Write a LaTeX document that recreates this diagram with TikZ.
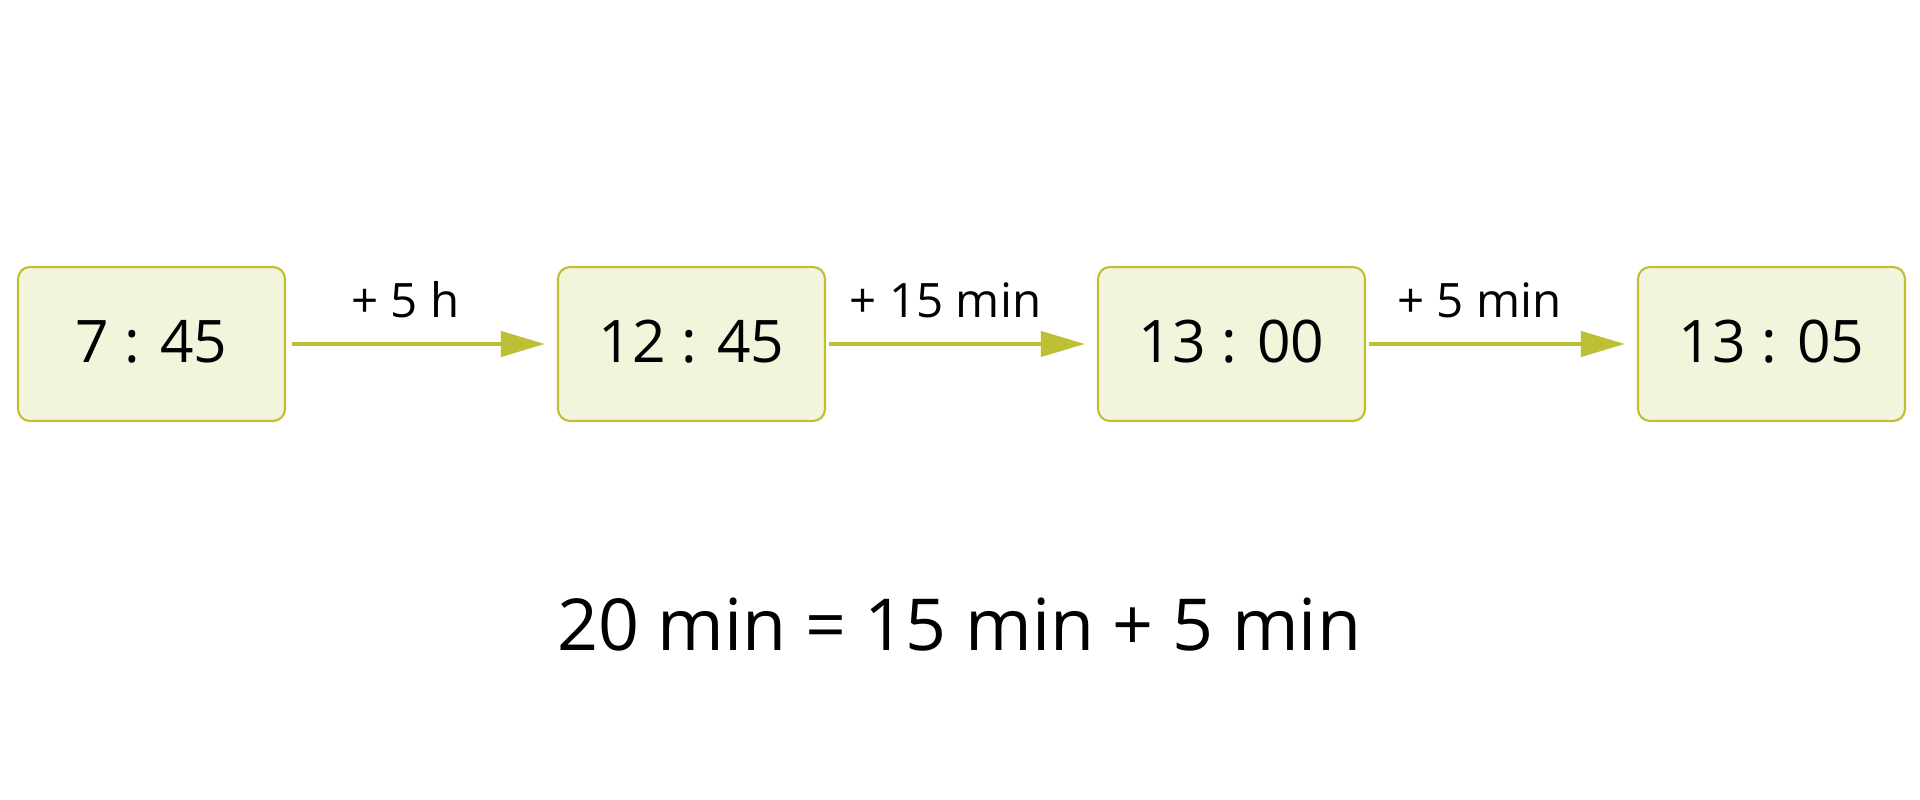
\documentclass[tikz,border=0pt]{standalone}
\usepackage{fontspec}
\setmainfont{Open Sans}
\usepackage{tikz}
\usetikzlibrary{arrows.meta,positioning}
\definecolor{clkolive}{RGB}{189,192,52}
\definecolor{clkfill}{RGB}{243,244,220}
\tikzstyle{arrow} = [line width=1.1pt,-{Triangle[length=0.44cm,width=0.25cm]},color=clkolive,shorten <=0.03cm,shorten >=0.12cm]
\tikzstyle{clock} = [rectangle, rounded corners=0.12cm, minimum width=2.67cm, minimum height=1.54cm, text centered, text depth=0.06cm, draw=clkolive, fill=clkfill, line width=0.6pt, font=\fontsize{16.7}{20}\selectfont]
\tikzstyle{step label} = [above=0.24cm, inner sep=0pt, xshift=-0.16cm, text=black, font=\fontsize{13.5}{16}\selectfont]

\begin{document}
\begin{tikzpicture}[node distance=5.4cm]
\useasboundingbox (0,0) rectangle (19.2,8);
% Clock times
\node (t1) [clock] at (1.515,4.56) {7 : 45};
\node (t2) [clock, right of=t1] {12 : 45};
\node (t3) [clock, right of=t2] {13 : 00};
\node (t4) [clock, right of=t3] {13 : 05};

\draw[arrow, shorten <=0.06cm] (t1) -- node[step label] (s1) {+ 5 h} (t2);
\draw[arrow] (t2) -- node[step label] (s2) {+ 15 min} (t3);
\draw[arrow] (t3) -- node[step label, xshift=-0.06cm] (s3) {+ 5 min} (t4);

\node (sum) [anchor=base, font=\fontsize{20.4}{24}\selectfont] at (9.59,1.49) {20 min = 15 min + 5 min};
\end{tikzpicture}
\end{document}
